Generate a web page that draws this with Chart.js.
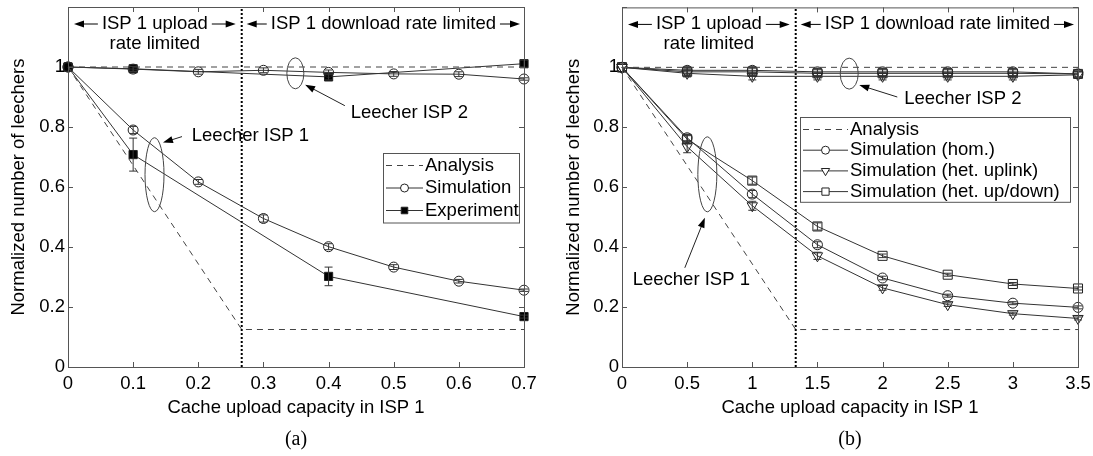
<!DOCTYPE html>
<html>
<head>
<meta charset="utf-8">
<script src="https://cdn.jsdelivr.net/npm/chart.js@4.4.1/dist/chart.umd.min.js"></script>
<style>
  body { margin: 0; background: #fff; }
  #wrap { display: flex; width: 1093px; height: 456px; }
  .box { position: relative; height: 456px; }
</style>
</head>
<body>
<div id="wrap">
  <div class="box" style="width:546px"><canvas id="chart-a"></canvas></div>
  <div class="box" style="width:547px"><canvas id="chart-b"></canvas></div>
</div>
<script>
// ---- (a) ----
const capA = [0, 0.1, 0.2, 0.3, 0.4, 0.5, 0.6, 0.7];
const simIsp1A = [1, 0.79, 0.617, 0.495, 0.401, 0.333, 0.286, 0.256];
const simIsp1ErrA = [0, 0.012, 0.008, 0.012, 0.01, 0.008, 0.006, 0.004];
const simIsp2A = [1, 0.993, 0.984, 0.989, 0.982, 0.977, 0.976, 0.96];
const simIsp2ErrA = [0, 0.008, 0.008, 0.008, 0.008, 0.008, 0.008, 0.004];
const expCapA = [0, 0.1, 0.4, 0.7];
const expIsp1A = [1, 0.708, 0.302, 0.168];
const expIsp1ErrA = [0, 0.055, 0.031, 0.005];
const expIsp2A = [1, 0.994, 0.967, 1.011];
const expIsp2ErrA = [0, 0.008, 0.01, 0.012];
const analysisCapA = [0, 4 / 15, 0.7];
const analysisIsp1A = [1, 0.125, 0.125];
const analysisIsp2A = [1, 1, 1];
const boundaryA = 4 / 15;

// ---- (b) ----
const capB = [0, 0.5, 1, 1.5, 2, 2.5, 3, 3.5];
const homIsp1B = [1, 0.765, 0.577, 0.408, 0.297, 0.238, 0.213, 0.199];
const uplinkIsp1B = [1, 0.735, 0.538, 0.371, 0.264, 0.208, 0.178, 0.162];
const updownIsp1B = [1, 0.76, 0.622, 0.469, 0.371, 0.308, 0.277, 0.262];
const homIsp2B = [1, 0.99, 0.99, 0.985, 0.985, 0.985, 0.985, 0.978];
const uplinkIsp2B = [1, 0.98, 0.97, 0.97, 0.97, 0.97, 0.97, 0.975];
const updownIsp2B = [1, 0.985, 0.985, 0.98, 0.98, 0.98, 0.98, 0.978];
const homErrB = [0, 0.012, 0.012, 0.01, 0.006, 0.005, 0.005, 0.005];
const uplinkErrB = [0, 0.02, 0.015, 0.012, 0.008, 0.006, 0.005, 0.005];
const updownErrB = [0, 0.012, 0.012, 0.012, 0.006, 0.005, 0.005, 0.005];
const isp2ErrB = [0, 0.012, 0.012, 0.012, 0.012, 0.012, 0.012, 0.01];
const analysisCapB = [0, 4 / 3, 3.5];
const analysisIsp1B = [1, 0.125, 0.125];
const analysisIsp2B = [1, 1, 1];
const boundaryB = 4 / 3;

const yLimits = [0, 1.2];


const sans = 'Liberation Sans, Arial, sans-serif';
const fontSize = 18.5;
const ink = '#000';
const lineInk = '#333';

const pts = (xs, ys) => xs.map((x, i) => ({x: x, y: ys[i]}));

const CIRCLE = {pointStyle: 'circle', pointRadius: 5};
const SQUARE_FILLED = {pointStyle: 'rect', pointRadius: 5.8, pointBackgroundColor: '#000'};
const SQUARE = {pointStyle: 'rect', pointRadius: 6.4};
const TRIANGLE = {pointStyle: 'triangle', pointRadius: 6, pointRotation: 180};
const DASHED = {borderDash: [6, 5], borderColor: '#444', pointRadius: 0};

const series = (label, xs, ys, style, errors) => Object.assign({
    label: label,
    data: pts(xs, ys),
    errors: errors || null,
    borderColor: lineInk,
    borderWidth: 1,
    pointBorderColor: '#222',
    pointBorderWidth: 1,
    pointBackgroundColor: 'rgba(0,0,0,0)',
    tension: 0,
    fill: false,
    clip: false,
}, style);

const boundary = (x) => ({
    data: [{x: x, y: yLimits[0]}, {x: x, y: yLimits[1]}],
    borderColor: '#000', borderWidth: 2, borderDash: [2, 2], pointRadius: 0, fill: false,
});


function arrow(ctx, x0, y0, x1, y1) {
    const ang = Math.atan2(y1 - y0, x1 - x0);
    const len = 10, half = 3.5;
    const c = Math.cos(ang), s = Math.sin(ang);
    ctx.beginPath();
    ctx.moveTo(x0, y0);
    ctx.lineTo(x1 - c * len * 0.8, y1 - s * len * 0.8);
    ctx.stroke();
    ctx.beginPath();
    ctx.moveTo(x1, y1);
    ctx.lineTo(x1 - len * c + half * s, y1 - len * s - half * c);
    ctx.lineTo(x1 - len * c - half * s, y1 - len * s + half * c);
    ctx.closePath();
    ctx.fill();
}

function span(ctx, x1, x2, y, text) {
    const w = ctx.measureText(text).width;
    const cx = (x1 + x2) / 2;
    ctx.textAlign = 'center';
    ctx.fillText(text, cx, y);
    arrow(ctx, cx - w / 2 - 4, y, x1, y);
    arrow(ctx, cx + w / 2 + 4, y, x2, y);
}


// frame, inner ticks, error bars, legend and the notes drawn over the plot
const decor = {
    id: 'decor',
    afterDatasetsDraw(chart, args, opts) {
        const ctx = chart.ctx;
        const xs = chart.scales.x, ys = chart.scales.y;
        const a = chart.chartArea;
        ctx.save();
        ctx.strokeStyle = '#333';
        ctx.fillStyle = ink;
        ctx.lineWidth = 1;

        // error bars
        chart.data.datasets.forEach(ds => {
            if (!ds.errors) return;
            ds.data.forEach((p, i) => {
                const e = ds.errors[i];
                if (!e) return;
                const px = xs.getPixelForValue(p.x);
                const y1 = ys.getPixelForValue(p.y - e);
                const y2 = ys.getPixelForValue(p.y + e);
                ctx.beginPath();
                ctx.moveTo(px, y1); ctx.lineTo(px, y2);
                ctx.moveTo(px - 4, y1); ctx.lineTo(px + 4, y1);
                ctx.moveTo(px - 4, y2); ctx.lineTo(px + 4, y2);
                ctx.stroke();
            });
        });

        // frame + inward ticks
        ctx.strokeStyle = '#555';
        ctx.strokeRect(a.left + 0.5, a.top + 0.5, a.right - a.left, a.bottom - a.top);
        ctx.beginPath();
        xs.ticks.forEach(t => {
            const px = Math.round(xs.getPixelForValue(t.value)) + 0.5;
            ctx.moveTo(px, a.bottom); ctx.lineTo(px, a.bottom - 5);
            ctx.moveTo(px, a.top); ctx.lineTo(px, a.top + 5);
        });
        ys.ticks.forEach(t => {
            const py = Math.round(ys.getPixelForValue(t.value)) + 0.5;
            ctx.moveTo(a.left, py); ctx.lineTo(a.left + 5, py);
            ctx.moveTo(a.right, py); ctx.lineTo(a.right - 5, py);
        });
        ctx.stroke();

        // regime labels across the top
        ctx.strokeStyle = '#000';
        ctx.font = fontSize + 'px ' + sans;
        ctx.textBaseline = 'middle';
        const bx = xs.getPixelForValue(opts.boundary);
        span(ctx, a.left + 6, bx - 6, a.top + 17, 'ISP 1 upload');
        ctx.fillText('rate limited', (a.left + bx) / 2, a.top + 37);
        span(ctx, bx + 5, a.right - 4, a.top + 17, 'ISP 1 download rate limited');

        // ellipses and pointers
        ctx.strokeStyle = '#444';
        opts.ellipses.forEach(e => {
            ctx.beginPath();
            ctx.ellipse(xs.getPixelForValue(e.x), ys.getPixelForValue(e.y), e.rx, e.ry, 0, 0, Math.PI * 2);
            ctx.stroke();
        });
        ctx.strokeStyle = '#222';
        ctx.textAlign = 'left';
        opts.pointers.forEach(p => {
            arrow(ctx, xs.getPixelForValue(p.from[0]), ys.getPixelForValue(p.from[1]),
                xs.getPixelForValue(p.to[0]), ys.getPixelForValue(p.to[1]));
            ctx.fillText(p.text, xs.getPixelForValue(p.at[0]), ys.getPixelForValue(p.at[1]));
        });

        // legend box
        const lg = opts.legend;
        const entries = chart.data.datasets.filter(ds => ds.inLegend);
        const h = lg.rowH * entries.length + 2;
        ctx.fillStyle = '#fff';
        ctx.fillRect(lg.x, lg.y, lg.w, h);
        ctx.strokeStyle = '#555';
        ctx.strokeRect(lg.x + 0.5, lg.y + 0.5, lg.w, h);
        entries.forEach((ds, i) => {
            const y = lg.y + 12.5 + i * lg.rowH;
            const x0 = lg.x + 3, x1 = lg.x + 3 + lg.line;
            ctx.strokeStyle = ds.borderColor;
            ctx.setLineDash(ds.borderDash || []);
            ctx.beginPath();
            ctx.moveTo(x0, y); ctx.lineTo(x1, y);
            ctx.stroke();
            ctx.setLineDash([]);
            if (ds.pointRadius > 0) {
                ctx.strokeStyle = ds.pointBorderColor;
                ctx.fillStyle = ds.pointBackgroundColor === '#000' ? '#000' : '#fff';
                Chart.helpers.drawPoint(ctx, {
                    pointStyle: ds.pointStyle, radius: ds.pointRadius * 0.8,
                    rotation: ds.pointRotation || 0, borderWidth: 1,
                }, (x0 + x1) / 2, y);
            }
            ctx.fillStyle = ink;
            ctx.fillText(ds.inLegend, x1 + 2, y);
        });

        // sub-figure caption
        ctx.font = '20px Liberation Serif, Times New Roman, serif';
        ctx.textAlign = 'center';
        ctx.fillText(opts.caption, (a.left + a.right) / 2, 440);
        ctx.restore();
    }
};


function makeChart(id, datasets, xMax, xStep, yWidth, yTitlePad, padRight, decorOpts) {
    const font = {family: sans, size: fontSize};
    return new Chart(document.getElementById(id), {
        type: 'line',
        data: {datasets: datasets},
        options: {
            responsive: true,
            maintainAspectRatio: false,
            animation: false,
            events: [],
            layout: {padding: {left: 0, right: padRight, top: 7, bottom: 0}},
            plugins: {legend: {display: false}, tooltip: {enabled: false}, decor: decorOpts},
            scales: {
                x: {
                    type: 'linear', min: 0, max: xMax,
                    ticks: {stepSize: xStep, font: font, color: ink, padding: 6, maxRotation: 0,
                        callback: v => String(Math.round(v * 10) / 10)},
                    grid: {display: false, drawTicks: false},
                    border: {display: false},
                    title: {display: true, text: 'Cache upload capacity in ISP 1', font: font, color: ink,
                        padding: {top: 0, bottom: 37}},
                    afterFit: s => {
                        s.height = 89;
                        s.paddingLeft = 0;
                        s.paddingRight = 0;
                    },
                },
                y: {
                    type: 'linear', min: yLimits[0], max: yLimits[1],
                    ticks: {stepSize: 0.2, font: font, color: ink, padding: 3,
                        callback: v => v > 1.1 ? '' : String(Math.round(v * 10) / 10)},
                    grid: {display: false, drawTicks: false},
                    border: {display: false},
                    title: {display: true, text: 'Normalized number of leechers', font: font, color: ink,
                        padding: {top: yTitlePad, bottom: 0}},
                    afterFit: s => {
                        s.width = yWidth;
                        s.paddingTop = 0;
                        s.paddingBottom = 0;
                    },
                },
            },
        },
        plugins: [decor],
    });
}


// MAIN

makeChart('chart-a', [
    Object.assign(series('Analysis', analysisCapA, analysisIsp1A, DASHED), {inLegend: 'Analysis'}),
    series('Analysis ISP 2', analysisCapA, analysisIsp2A, DASHED),
    Object.assign(series('Simulation', capA, simIsp1A, CIRCLE, simIsp1ErrA), {inLegend: 'Simulation'}),
    series('Simulation ISP 2', capA, simIsp2A, CIRCLE, simIsp2ErrA),
    Object.assign(series('Experiment', expCapA, expIsp1A, SQUARE_FILLED, expIsp1ErrA), {inLegend: 'Experiment'}),
    series('Experiment ISP 2', expCapA, expIsp2A, SQUARE_FILLED, expIsp2ErrA),
    boundary(boundaryA),
], 0.7, 0.1, 68, 7.5, 22, {
    boundary: boundaryA,
    caption: '(a)',
    ellipses: [
        {x: 0.1328, y: 0.641, rx: 9.5, ry: 37},
        {x: 0.349, y: 0.979, rx: 8.5, ry: 15.5},
    ],
    pointers: [
        {from: [0.175, 0.768], to: [0.1458, 0.748], text: 'Leecher ISP 1', at: [0.19, 0.771]},
        {from: [0.425, 0.871], to: [0.364, 0.941], text: 'Leecher ISP 2', at: [0.434, 0.848]},
    ],
    legend: {x: 383, y: 153, w: 136, rowH: 22.5, line: 37},
});

makeChart('chart-b', [
    Object.assign(series('Analysis', analysisCapB, analysisIsp1B, DASHED), {inLegend: 'Analysis'}),
    series('Analysis ISP 2', analysisCapB, analysisIsp2B, DASHED),
    Object.assign(series('Simulation (hom.)', capB, homIsp1B, CIRCLE, homErrB), {inLegend: 'Simulation (hom.)'}),
    series('hom ISP 2', capB, homIsp2B, CIRCLE, isp2ErrB),
    Object.assign(series('Simulation (het. uplink)', capB, uplinkIsp1B, TRIANGLE, uplinkErrB), {inLegend: 'Simulation (het. uplink)'}),
    series('uplink ISP 2', capB, uplinkIsp2B, TRIANGLE, isp2ErrB),
    Object.assign(series('Simulation (het. up/down)', capB, updownIsp1B, SQUARE, updownErrB), {inLegend: 'Simulation (het. up/down)'}),
    series('updown ISP 2', capB, updownIsp2B, SQUARE, isp2ErrB),
    boundary(boundaryB),
], 3.5, 0.5, 76, 16.5, 15, {
    boundary: boundaryB,
    caption: '(b)',
    ellipses: [
        {x: 0.655, y: 0.643, rx: 9.5, ry: 37.5},
        {x: 1.744, y: 0.979, rx: 9, ry: 15.5},
    ],
    pointers: [
        {from: [0.482, 0.331], to: [0.636, 0.498], text: 'Leecher ISP 1', at: [0.082, 0.291]},
        {from: [2.113, 0.901], to: [1.821, 0.941], text: 'Leecher ISP 2', at: [2.166, 0.894]},
    ],
    legend: {x: 254, y: 117, w: 270, rowH: 20.7, line: 45},
});
</script>
</body>
</html>
